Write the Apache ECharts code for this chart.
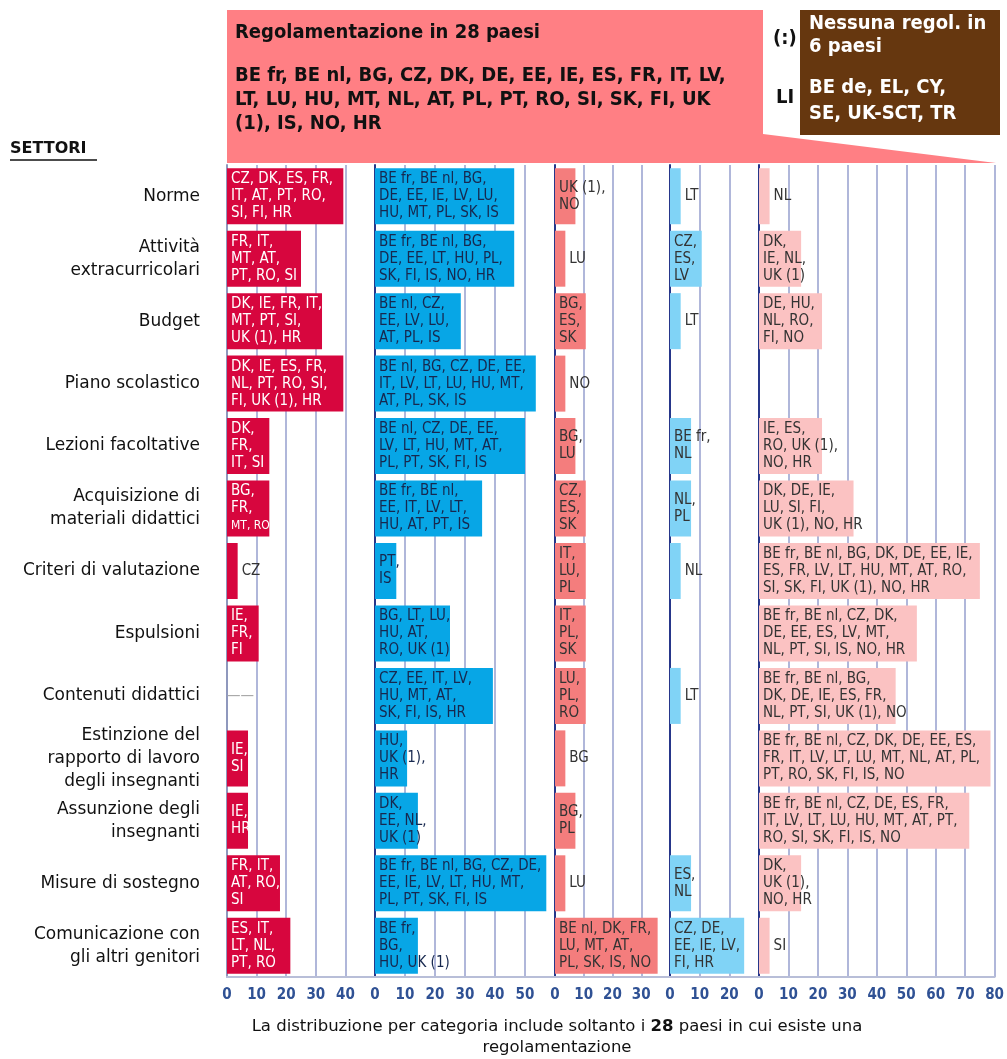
<!DOCTYPE html>
<html>
<head>
<meta charset="utf-8">
<script src="https://cdn.jsdelivr.net/npm/echarts@6/dist/echarts.min.js"></script>
<style>
  html, body { margin: 0; padding: 0; background: #fff; }
  #chart { width: 1007px; height: 1059px; }
</style>
</head>
<body>
<div id="chart"></div>
<script>
// settori (righe del grafico)
const sectors = [
  'Norme',
  'Attività\nextracurricolari',
  'Budget',
  'Piano scolastico',
  'Lezioni facoltative',
  'Acquisizione di\nmateriali didattici',
  'Criteri di valutazione',
  'Espulsioni',
  'Contenuti didattici',
  'Estinzione del\nrapporto di lavoro\ndegli insegnanti',
  'Assunzione degli\ninsegnanti',
  'Misure di sostegno',
  'Comunicazione con\ngli altri genitori'
];

// % dei 28 paesi, una colonna per categoria
const cat1Values = [39.3, 25, 32.1, 39.3, 14.3, 14.3, 3.6, 10.7, 0, 7.1, 7.1, 17.9, 21.4];
const cat2Values = [46.4, 46.4, 28.6, 53.6, 50, 35.7, 7.1, 25, 39.3, 10.7, 14.3, 57.1, 14.3];
const cat3Values = [7.1, 3.6, 10.7, 3.6, 7.1, 10.7, 10.7, 10.7, 10.7, 3.6, 7.1, 3.6, 35.7];
const cat4Values = [3.6, 10.7, 3.6, 0, 7.1, 7.1, 3.6, 0, 3.6, 0, 0, 7.1, 25];
const cat5Values = [3.6, 14.3, 21.4, 0, 21.4, 32.1, 75, 53.6, 46.4, 78.6, 71.4, 14.3, 3.6];

const cat1Labels = [
  'CZ, DK, ES, FR,\nIT, AT, PT, RO,\nSI, FI, HR',
  'FR, IT,\nMT, AT,\nPT, RO, SI',
  'DK, IE, FR, IT,\nMT, PT, SI,\nUK (1), HR',
  'DK, IE, ES, FR,\nNL, PT, RO, SI,\nFI, UK (1), HR',
  'DK,\nFR,\nIT, SI',
  'BG,\nFR,\n{s|MT, RO}',
  'CZ',
  'IE,\nFR,\nFI',
  '——',
  'IE,\nSI',
  'IE,\nHR',
  'FR, IT,\nAT, RO,\nSI',
  'ES, IT,\nLT, NL,\nPT, RO'
];
const cat2Labels = [
  'BE fr, BE nl, BG,\nDE, EE, IE, LV, LU,\nHU, MT, PL, SK, IS',
  'BE fr, BE nl, BG,\nDE, EE, LT, HU, PL,\nSK, FI, IS, NO, HR',
  'BE nl, CZ,\nEE, LV, LU,\nAT, PL, IS',
  'BE nl, BG, CZ, DE, EE,\nIT, LV, LT, LU, HU, MT,\nAT, PL, SK, IS',
  'BE nl, CZ, DE, EE,\nLV, LT, HU, MT, AT,\nPL, PT, SK, FI, IS',
  'BE fr, BE nl,\nEE, IT, LV, LT,\nHU, AT, PT, IS',
  'PT,\nIS',
  'BG, LT, LU,\nHU, AT,\nRO, UK (1)',
  'CZ, EE, IT, LV,\nHU, MT, AT,\nSK, FI, IS, HR',
  'HU,\nUK (1),\nHR',
  'DK,\nEE, NL,\nUK (1)',
  'BE fr, BE nl, BG, CZ, DE,\nEE, IE, LV, LT, HU, MT,\nPL, PT, SK, FI, IS',
  'BE fr,\nBG,\nHU, UK (1)'
];
const cat3Labels = [
  'UK (1),\nNO', 'LU', 'BG,\nES,\nSK', 'NO', 'BG,\nLU', 'CZ,\nES,\nSK',
  'IT,\nLU,\nPL', 'IT,\nPL,\nSK', 'LU,\nPL,\nRO', 'BG', 'BG,\nPL', 'LU',
  'BE nl, DK, FR,\nLU, MT, AT,\nPL, SK, IS, NO'
];
const cat4Labels = [
  'LT', 'CZ,\nES,\nLV', 'LT', '', 'BE fr,\nNL', 'NL,\nPL', 'NL', '', 'LT', '', '',
  'ES,\nNL', 'CZ, DE,\nEE, IE, LV,\nFI, HR'
];
const cat5Labels = [
  'NL',
  'DK,\nIE, NL,\nUK (1)',
  'DE, HU,\nNL, RO,\nFI, NO',
  '',
  'IE, ES,\nRO, UK (1),\nNO, HR',
  'DK, DE, IE,\nLU, SI, FI,\nUK (1), NO, HR',
  'BE fr, BE nl, BG, DK, DE, EE, IE,\nES, FR, LV, LT, HU, MT, AT, RO,\nSI, SK, FI, UK (1), NO, HR',
  'BE fr, BE nl, CZ, DK,\nDE, EE, ES, LV, MT,\nNL, PT, SI, IS, NO, HR',
  'BE fr, BE nl, BG,\nDK, DE, IE, ES, FR,\nNL, PT, SI, UK (1), NO',
  'BE fr, BE nl, CZ, DK, DE, EE, ES,\nFR, IT, LV, LT, LU, MT, NL, AT, PL,\nPT, RO, SK, FI, IS, NO',
  'BE fr, BE nl, CZ, DE, ES, FR,\nIT, LV, LT, LU, HU, MT, AT, PT,\nRO, SI, SK, FI, IS, NO',
  'DK,\nUK (1),\nNO, HR',
  'SI'
];

// ultima etichetta mostrata su ogni asse
const tickMax = [40, 50, 30, 20, 80];

const condensed = '"DejaVu Sans Condensed", "DejaVu Sans", sans-serif';

const panels = [
  { values: cat1Values, labels: cat1Labels, color: '#d7063e', text: '#ffffff', max: 50, width: 148, zero: '#8f98bd' },
  { values: cat2Values, labels: cat2Labels, color: '#07a6e6', text: '#17284f', max: 60, width: 180, zero: '#26368a' },
  { values: cat3Values, labels: cat3Labels, color: '#f47d7d', text: '#333333', max: 40, width: 115, zero: '#26368a' },
  { values: cat4Values, labels: cat4Labels, color: '#80d3f6', text: '#333333', max: 30, width: 89, zero: '#26368a' },
  { values: cat5Values, labels: cat5Labels, color: '#fbc2c2', text: '#333333', max: 80, width: 237, zero: '#26368a' }
];

const grids = [], xAxes = [], yAxes = [], series = [];
let left = 227;
panels.forEach((p, i) => {
  grids.push({ left: left, top: 165, width: p.width, height: 812 });
  left += p.width;

  xAxes.push({
    gridIndex: i,
    type: 'value',
    min: 0,
    max: p.max,
    interval: 10,
    axisLine: { show: true, onZero: false, lineStyle: { color: '#b8bed8', width: 2 } },
    axisTick: { show: false },
    axisLabel: {
      formatter: v => (v <= tickMax[i] ? String(v) : ''),
      color: '#2f5194',
      fontFamily: condensed,
      fontWeight: 'bold',
      fontSize: 15,
      margin: 11
    },
    splitLine: {
      show: true,
      showMinLine: false,
      showMaxLine: i === 4,
      lineStyle: { color: '#b0b7da', width: 2 }
    }
  });

  yAxes.push({
    gridIndex: i,
    type: 'category',
    inverse: true,
    data: sectors,
    axisLine: { show: true, lineStyle: { color: p.zero, width: 2 } },
    axisTick: { show: false },
    splitLine: { show: false },
    axisLabel: {
      show: i === 0,
      margin: 27,
      color: '#111',
      fontFamily: '"DejaVu Sans", sans-serif',
      fontSize: 17,
      lineHeight: 23,
      align: 'right'
    }
  });

  series.push({
    type: 'bar',
    xAxisIndex: i,
    yAxisIndex: i,
    barWidth: 56,
    itemStyle: { color: p.color },
    data: p.values.map(v => (v < 5
      ? { value: v, label: { position: 'right', distance: v === 0 ? 0 : 4, color: v === 0 ? '#aaa' : '#333' } }
      : v)),
    label: {
      show: true,
      position: 'insideLeft',
      distance: 4,
      color: p.text,
      fontFamily: condensed,
      fontSize: 15,
      lineHeight: 17,
      overflow: 'none',
      rich: {
        s: { fontFamily: condensed, fontSize: 12, lineHeight: 17, color: p.text }
      },
      formatter: d => p.labels[d.dataIndex]
    },
    animation: false
  });
});

const headFont = 'bold 20px "DejaVu Sans Condensed", "DejaVu Sans", sans-serif';

const chart = echarts.init(document.getElementById('chart'), null, { renderer: 'canvas' });
chart.setOption({
  backgroundColor: '#ffffff',
  animation: false,
  grid: grids,
  xAxis: xAxes,
  yAxis: yAxes,
  series: series,
  graphic: [
    {
      type: 'polygon', z: -1,
      shape: { points: [[227, 10], [763, 10], [763, 134], [996, 163], [227, 163]] },
      style: { fill: '#ff7f84' }
    },
    { type: 'rect', shape: { x: 800, y: 10, width: 200, height: 125 }, style: { fill: '#66370f' } },
    { type: 'text', left: 235, top: 23, style: { text: 'Regolamentazione in 28 paesi', font: headFont, fill: '#111' } },
    {
      type: 'text', left: 235, top: 64,
      style: {
        text: 'BE fr, BE nl, BG, CZ, DK, DE, EE, IE, ES, FR, IT, LV,\nLT, LU, HU, MT, NL, AT, PL, PT, RO, SI, SK, FI, UK\n(1), IS, NO, HR',
        font: headFont, lineHeight: 24, fill: '#111'
      }
    },
    { type: 'text', left: 773, top: 29, style: { text: '(:)', font: headFont, fill: '#111' } },
    { type: 'text', left: 776, top: 88, style: { text: 'LI', font: headFont, fill: '#111' } },
    {
      type: 'text', left: 809, top: 12,
      style: { text: 'Nessuna regol. in\n6 paesi', font: headFont, lineHeight: 23, fill: '#fff' }
    },
    {
      type: 'text', left: 809, top: 75,
      style: { text: 'BE de, EL, CY,\nSE, UK-SCT, TR', font: headFont, lineHeight: 26, fill: '#fff' }
    },
    { type: 'text', left: 10, top: 141, style: { text: 'SETTORI', font: 'bold 16px "DejaVu Sans", sans-serif', fill: '#111' } },
    { type: 'line', shape: { x1: 10, y1: 160, x2: 97, y2: 160 }, style: { stroke: '#111', lineWidth: 1.5 } },
    {
      type: 'text', x: 557, y: 1016,
      style: {
        text: '{n|La distribuzione per categoria include soltanto i }{b|28}{n| paesi in cui esiste una}\n{n|regolamentazione}',
        align: 'center',
        lineHeight: 21,
        rich: {
          n: { font: '16.5px "DejaVu Sans", sans-serif', fill: '#111', lineHeight: 21 },
          b: { font: 'bold 16.5px "DejaVu Sans", sans-serif', fill: '#111', lineHeight: 21 }
        }
      }
    }
  ]
});
</script>
</body>
</html>
